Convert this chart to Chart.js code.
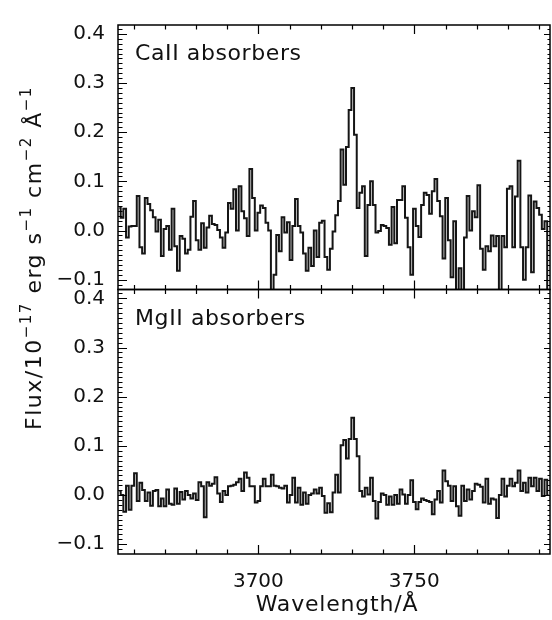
<!DOCTYPE html>
<html>
<head>
<meta charset="utf-8">
<script src="https://cdn.jsdelivr.net/npm/chart.js@4.4.1/dist/chart.umd.min.js"></script>
<style>
  html, body { margin: 0; padding: 0; background: #fff; }
  #wrap { width: 552px; height: 620px; }
</style>
</head>
<body>
<div id="wrap"><canvas id="spec" width="552" height="620"></canvas></div>
<script>
// wavelength grid of the stacked spectra (one value per pixel)
var waveStart = 3655.0;
var waveStep = 0.86;

// stacked flux, 1e-17 erg/s/cm2/A
var caFlux = [
  0.046, 0.026, 0.044, -0.014, 0.008, 0.009, 0.009, 0.070, -0.034, -0.047,
  0.066, 0.054, 0.041, 0.027, -0.002, 0.022, -0.052, 0.003, 0.009, -0.039,
  0.044, -0.032, -0.082, -0.011, -0.017, -0.047, -0.039, 0.028, 0.060, -0.020,
  -0.039, 0.015, -0.035, 0.006, 0.030, 0.013, 0.011, 0.001, -0.014, -0.035,
  -0.004, 0.056, 0.044, 0.084, 0.000, 0.090, 0.039, 0.025, -0.011, 0.125,
  0.066, 0.000, 0.036, 0.051, 0.046, 0.016, 0.000, -0.140, -0.090, -0.009,
  -0.042, 0.027, -0.004, 0.017, -0.060, 0.009, 0.064, 0.009, -0.004, -0.047,
  -0.082, -0.035, -0.072, 0.000, -0.054, 0.016, 0.020, -0.054, -0.080, -0.037,
  -0.002, 0.031, 0.060, 0.165, 0.093, 0.170, 0.245, 0.290, 0.195, 0.046,
  0.077, 0.090, -0.052, 0.052, 0.100, 0.052, -0.004, -0.001, 0.011, 0.009,
  0.005, -0.029, 0.048, -0.026, 0.062, 0.062, 0.090, 0.026, -0.034, -0.090,
  0.044, 0.009, -0.013, 0.052, 0.077, 0.072, 0.034, 0.080, 0.105, 0.060,
  0.029, -0.057, 0.066, -0.020, -0.095, 0.019, -0.140, -0.077, -0.140, -0.014,
  0.070, 0.000, 0.039, 0.027, 0.092, -0.037, -0.080, -0.032, -0.042, -0.010,
  -0.032, -0.011, -0.140, -0.011, -0.034, 0.085, 0.090, -0.034, 0.069, 0.142,
  -0.034, -0.100, -0.034, 0.071, -0.085, 0.059, 0.046, 0.032, 0.003, 0.019,
  -0.140
];
var mgFlux = [
  0.008, 0.000, -0.034, 0.019, -0.030, 0.019, 0.044, -0.012, 0.025, 0.010,
  -0.012, 0.005, -0.022, 0.008, 0.010, -0.023, -0.007, -0.023, 0.011, -0.018,
  -0.020, 0.013, -0.018, 0.006, -0.009, 0.008, 0.000, -0.007, 0.003, -0.010,
  0.026, 0.018, -0.045, 0.026, 0.019, 0.023, 0.036, 0.003, -0.014, 0.008,
  0.000, 0.018, 0.019, 0.021, 0.026, 0.033, 0.008, 0.046, 0.035, 0.018,
  0.018, -0.015, -0.012, 0.018, 0.033, 0.018, 0.018, 0.041, 0.019, 0.018,
  0.015, 0.013, 0.019, -0.015, 0.000, 0.035, -0.015, 0.015, -0.020, 0.005,
  -0.018, 0.000, 0.003, 0.011, 0.003, 0.015, -0.002, -0.036, -0.017, -0.035,
  0.005, 0.041, 0.005, 0.101, 0.112, 0.074, 0.114, 0.157, 0.114, 0.079,
  0.008, -0.003, 0.015, 0.001, 0.035, -0.012, -0.048, -0.014, 0.003, 0.000,
  -0.020, -0.003, -0.020, 0.000, -0.018, 0.011, 0.001, -0.018, 0.000, 0.030,
  -0.014, -0.029, -0.014, -0.007, -0.010, -0.012, -0.014, -0.039, -0.009, 0.008,
  -0.015, 0.050, 0.028, 0.019, -0.012, 0.018, -0.023, -0.042, 0.019, -0.012,
  0.011, -0.009, 0.008, 0.023, 0.021, 0.017, -0.015, 0.033, -0.018, -0.007,
  -0.009, -0.047, 0.000, 0.033, -0.003, 0.019, 0.033, 0.018, 0.025, 0.050,
  0.008, 0.025, 0.005, 0.035, 0.018, 0.035, 0.008, 0.033, -0.002, 0.031,
  0.000
];

var yTickValues = [-0.1, 0.0, 0.1, 0.2, 0.3, 0.4];
var xTickValues = [3700, 3750];
var panelNames = { yTop: 'CaII absorbers', yBot: 'MgII absorbers' };

var FONT = "'DejaVu Sans', sans-serif";
var INK = '#111';

function toPoints(flux) {
  var pts = [];
  for (var i = 0; i < flux.length; i++) {
    pts.push({ x: waveStart + waveStep * (i + 0.5), y: flux[i] });
  }
  return pts;
}

function fmtY(v) {
  var s = Math.abs(v).toFixed(1);
  return v < -1e-9 ? '\u2212' + s : s;
}

function yScaleOpts() {
  return {
    type: 'linear', position: 'left', stack: 'panels', stackWeight: 1,
    min: -0.12, max: 0.418,
    afterBuildTicks: function (s) { s.ticks = yTickValues.map(function (v) { return { value: v }; }); },
    afterFit: function (s) { s.width = 118; },
    grid: { display: false, drawTicks: false },
    border: { display: false },
    ticks: { padding: 13, color: INK, autoSkip: false, font: { family: FONT, size: 20 }, callback: fmtY }
  };
}

// draws text pieces, superscripts raised and smaller
function richText(ctx, parts, x, y, size) {
  var cx = x;
  parts.forEach(function (p) {
    var fs = p.sup ? Math.round(size * 0.68) : size;
    ctx.font = fs + 'px ' + FONT;
    ctx.fillText(p.t, cx, p.sup ? y - size * 0.45 : y);
    cx += ctx.measureText(p.t).width;
  });
  return cx - x;
}

var yTitle = [
  { t: 'Flux/10' }, { t: '\u221217', sup: true }, { t: ' erg s' }, { t: '\u22121', sup: true },
  { t: ' cm' }, { t: '\u22122', sup: true }, { t: ' \u00c5' }, { t: '\u22121', sup: true }
];

var panelClip = {
  id: 'panelClip',
  beforeDatasetDraw: function (chart, args) {
    var ys = args.meta.yScale, a = chart.chartArea, ctx = chart.ctx;
    ctx.save();
    ctx.beginPath();
    ctx.rect(a.left, ys.top, a.right - a.left, ys.bottom - ys.top);
    ctx.clip();
  },
  afterDatasetDraw: function (chart) { chart.ctx.restore(); }
};

var frames = {
  id: 'frames',
  afterDraw: function (chart) {
    var ctx = chart.ctx, xs = chart.scales.x;
    ctx.save();
    ctx.strokeStyle = '#000';
    ['yTop', 'yBot'].forEach(function (id) {
      var ys = chart.scales[id];
      var L = xs.left, R = xs.right, T = ys.top, B = ys.bottom;
      ctx.lineWidth = 1.2;
      ctx.beginPath();
      for (var m = -11; m <= 41; m++) {
        var y = Math.round(ys.getPixelForValue(m / 100)) + 0.5;
        var major = m % 10 === 0;
        ctx.moveTo(L, y); ctx.lineTo(L + (major ? 9 : 4.5), y);
        ctx.moveTo(R, y); ctx.lineTo(R - (major ? 6 : 2.5), y);
      }
      for (var w = 3660; w <= 3790; w += 10) {
        var x = Math.round(xs.getPixelForValue(w)) + 0.5;
        var len = w % 50 === 0 ? 9 : 4.5;
        ctx.moveTo(x, B); ctx.lineTo(x, B - len);
        ctx.moveTo(x, T); ctx.lineTo(x, T + len);
      }
      ctx.stroke();
      ctx.lineWidth = 1.5;
      ctx.strokeRect(L, T, R - L, B - T);

      ctx.fillStyle = INK;
      ctx.textBaseline = 'alphabetic';
      ctx.textAlign = 'left';
      ctx.letterSpacing = '0.6px';
      ctx.font = '22px ' + FONT;
      ctx.fillText(panelNames[id], L + 17, T + 35);
    });

    // axis titles
    ctx.fillStyle = INK;
    ctx.textAlign = 'center';
    ctx.letterSpacing = '0.8px';
    ctx.font = '22px ' + FONT;
    ctx.fillText('Wavelength/\u00c5', (xs.left + xs.right) / 2 + 3, 611);

    ctx.textAlign = 'left';
    ctx.letterSpacing = '1.5px';
    var total = 0;
    yTitle.forEach(function (p) {
      ctx.font = (p.sup ? 15 : 22) + 'px ' + FONT;
      total += ctx.measureText(p.t).width;
    });
    ctx.translate(41, 258 + total / 2);
    ctx.rotate(-Math.PI / 2);
    richText(ctx, yTitle, 0, 0, 22);
    ctx.restore();
  }
};

new Chart(document.getElementById('spec'), {
  type: 'line',
  data: {
    datasets: [
      { data: toPoints(caFlux), yAxisID: 'yTop', stepped: 'middle', borderColor: '#151515', borderWidth: 2, pointRadius: 0, fill: false },
      { data: toPoints(mgFlux), yAxisID: 'yBot', stepped: 'middle', borderColor: '#151515', borderWidth: 2, pointRadius: 0, fill: false }
    ]
  },
  options: {
    responsive: false,
    animation: false,
    devicePixelRatio: 1,
    layout: { padding: { top: 12, right: 2, left: 0, bottom: 0 } },
    plugins: { legend: { display: false }, tooltip: { enabled: false } },
    scales: {
      x: {
        type: 'linear', position: 'bottom', min: waveStart, max: 3793.5,
        afterBuildTicks: function (s) { s.ticks = xTickValues.map(function (v) { return { value: v }; }); },
        afterFit: function (s) { s.height = 66; },
        grid: { display: false, drawTicks: false },
        border: { display: false },
        ticks: { padding: 16, color: INK, maxRotation: 0, autoSkip: false, font: { family: FONT, size: 20 },
                 callback: function (v) { return String(v); } }
      },
      // stacked axes are laid out from the last one upwards
      yBot: yScaleOpts(),
      yTop: yScaleOpts()
    }
  },
  plugins: [panelClip, frames]
});
</script>
</body>
</html>
